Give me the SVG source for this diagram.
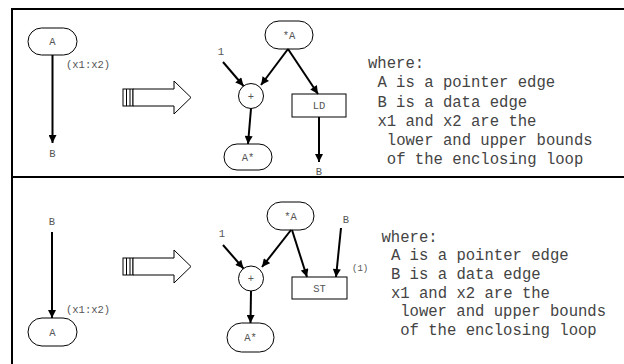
<svg xmlns="http://www.w3.org/2000/svg" width="624" height="364" viewBox="0 0 624 364">
  <style>
    .frame { stroke: #000; stroke-width: 2; fill: none; }
    .node { fill: #fff; stroke: #000; stroke-width: 1; }
    .edge { stroke: #000; stroke-width: 2; fill: none; marker-end: url(#ah); }
    .lbl { font-family: "Liberation Mono", "Courier New", monospace; font-size: 10.5px; fill: #555; }
    .lblc { font-family: "Liberation Mono", "Courier New", monospace; font-size: 10.5px; fill: #555; text-anchor: middle; }
    .note { font-family: "Liberation Mono", "Courier New", monospace; font-size: 15.6px; fill: #444; }
    .big { fill: #fff; stroke: #000; stroke-width: 1; }
  </style>
  <defs>
    <marker id="ah" viewBox="0 0 10 10" refX="10" refY="5" markerWidth="9" markerHeight="8" markerUnits="userSpaceOnUse" orient="auto">
      <path d="M0,0 L10,5 L0,10 z" fill="#000"/>
    </marker>
    <!-- hollow "transforms into" arrow with striped tail -->
    <g id="bigArrow">
      <rect class="big" x="123" y="89" width="10" height="17"/>
      <line x1="126.5" y1="89" x2="126.5" y2="106" stroke="#000" stroke-width="1"/>
      <line x1="130" y1="89" x2="130" y2="106" stroke="#000" stroke-width="1"/>
      <path class="big" d="M133,89 L174,89 L174,81 L191,97.5 L174,114 L174,106 L133,106 z"/>
    </g>
  </defs>

  <rect width="624" height="364" fill="#fff"/>

  <!-- panel frame -->
  <g id="frame">
    <line class="frame" x1="12" y1="9" x2="624" y2="9"/>
    <line class="frame" x1="12" y1="8" x2="12" y2="364"/>
    <line class="frame" x1="12" y1="177" x2="624" y2="177"/>
  </g>

  <!-- load case (top panel) -->
  <g id="top-A">
    <rect class="node" x="28" y="28" width="49" height="27" rx="13.5"/>
    <text class="lblc" x="52.5" y="45">A</text>
  </g>
  <g id="top-B"><text class="lblc" x="52.5" y="156.5">B</text></g>
  <g id="top-range"><text class="lbl" x="66" y="67.5">(x1:x2)</text></g>
  <use href="#bigArrow"/>
  <g id="top-starA">
    <rect class="node" x="265" y="21" width="48" height="28" rx="14"/>
    <text class="lblc" x="289" y="38.5">*A</text>
  </g>
  <g id="top-one"><text class="lblc" x="221" y="55">1</text></g>
  <g id="top-plus">
    <circle class="node" cx="251" cy="96" r="12.5"/>
    <text class="lblc" x="251" y="99.5">+</text>
  </g>
  <g id="top-LD">
    <rect class="node" x="292" y="94" width="54" height="23"/>
    <text class="lblc" x="319" y="109">LD</text>
  </g>
  <g id="top-Astar">
    <rect class="node" x="224" y="144" width="48" height="26" rx="13"/>
    <text class="lblc" x="248" y="160.5">A*</text>
  </g>
  <g id="top-outB"><text class="lblc" x="319" y="175">B</text></g>

  <!-- store case (bottom panel) -->
  <g id="bot-B"><text class="lblc" x="52" y="224.5">B</text></g>
  <g id="bot-range"><text class="lbl" x="66" y="312.5">(x1:x2)</text></g>
  <g id="bot-A">
    <rect class="node" x="28" y="318" width="49" height="28" rx="14"/>
    <text class="lblc" x="52.5" y="335.5">A</text>
  </g>
  <use href="#bigArrow" transform="translate(0,169)"/>
  <g id="bot-starA">
    <rect class="node" x="267" y="202" width="47" height="28" rx="14"/>
    <text class="lblc" x="290.5" y="219.5">*A</text>
  </g>
  <g id="bot-one"><text class="lblc" x="222" y="236.5">1</text></g>
  <g id="bot-plus">
    <circle class="node" cx="251" cy="278.5" r="12.5"/>
    <text class="lblc" x="251" y="282">+</text>
  </g>
  <g id="bot-ST">
    <rect class="node" x="292" y="277" width="55" height="22"/>
    <text class="lblc" x="319.5" y="291.5">ST</text>
  </g>
  <g id="bot-inB"><text class="lblc" x="346" y="223">B</text></g>
  <g id="bot-port"><text class="lbl" x="352" y="271" style="font-size:9px">(1)</text></g>
  <g id="bot-Astar">
    <rect class="node" x="227" y="323" width="47" height="29" rx="14.5"/>
    <text class="lblc" x="250.5" y="341">A*</text>
  </g>

  <!-- connectors -->
  <g id="connectors">
    <line class="edge" x1="52.5" y1="55" x2="52.5" y2="143"/>
    <line class="edge" x1="223" y1="62" x2="243.5" y2="86"/>
    <line class="edge" x1="288" y1="49" x2="261" y2="85"/>
    <line class="edge" x1="288" y1="49" x2="318" y2="94"/>
    <line class="edge" x1="319" y1="117" x2="319" y2="162"/>
    <line class="edge" x1="251" y1="108.5" x2="248" y2="144"/>

    <line class="edge" x1="52" y1="232" x2="52" y2="318"/>
    <line class="edge" x1="223" y1="245" x2="243.5" y2="268.5"/>
    <line class="edge" x1="291" y1="230" x2="262" y2="267"/>
    <line class="edge" x1="292" y1="230" x2="307" y2="277"/>
    <line class="edge" x1="341" y1="228" x2="336" y2="277"/>
    <line class="edge" x1="251" y1="291" x2="250.5" y2="323"/>
  </g>

  <!-- legend text -->
  <g id="note-top" class="note">
    <text x="368" y="68">where:</text>
    <text x="377.4" y="87">A is a pointer edge</text>
    <text x="377.4" y="106.5">B is a data edge</text>
    <text x="377.4" y="125.5">x1 and x2 are the</text>
    <text x="386.8" y="144.5">lower and upper bounds</text>
    <text x="386.8" y="163.5">of the enclosing loop</text>
  </g>
  <g id="note-bottom" class="note">
    <text x="381.5" y="241.5">where:</text>
    <text x="390.9" y="260.3">A is a pointer edge</text>
    <text x="390.9" y="279">B is a data edge</text>
    <text x="390.9" y="297.7">x1 and x2 are the</text>
    <text x="400.2" y="316.4">lower and upper bounds</text>
    <text x="400.2" y="335">of the enclosing loop</text>
  </g>
</svg>
